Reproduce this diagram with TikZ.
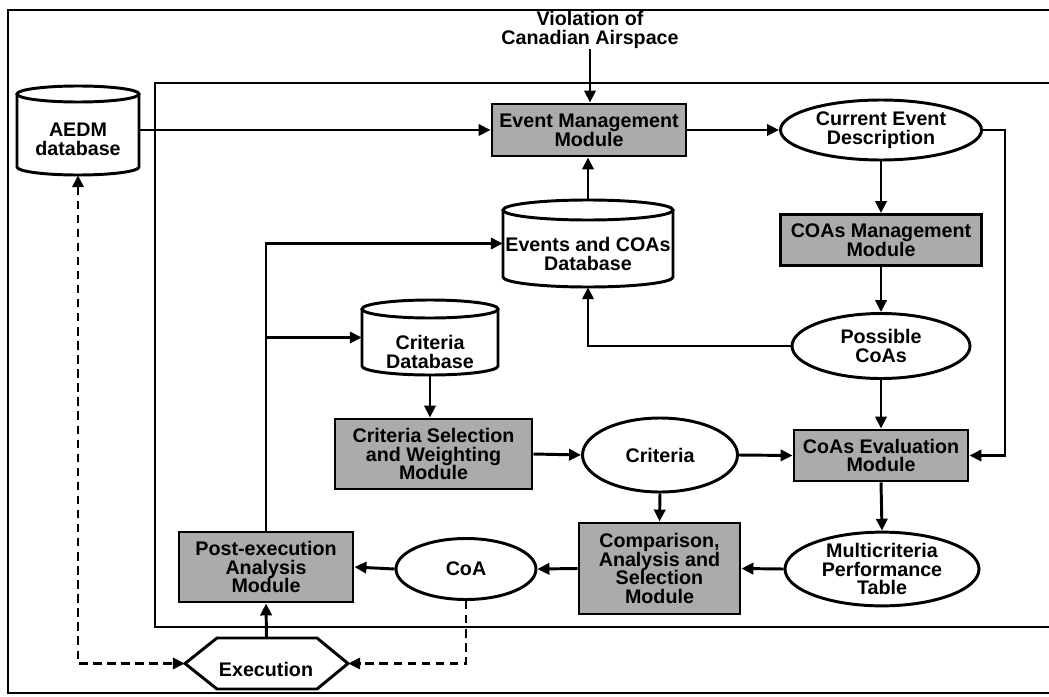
\documentclass[tikz,border=0pt]{standalone}
\usepackage{fontspec}
\setmainfont{Liberation Sans}
\usetikzlibrary{arrows.meta,shapes.geometric,calc}
\newcommand\pxd[1]{#1*0.025cm}
\begin{document}
\begin{tikzpicture}[x=0.025cm,y=-0.025cm,
  lw/.style={line width=2.1pt},
  frame/.style={line width=1.6pt},
  arr/.style={lw,-{Triangle[length=8.5pt,width=8pt]}},
  dasharr/.style={lw,dashed,dash pattern=on 6pt off 4pt,{Triangle[length=8.5pt,width=8pt]}-{Triangle[length=8.5pt,width=8pt]}},
  dasharrone/.style={lw,dashed,dash pattern=on 6pt off 4pt,-{Triangle[length=8.5pt,width=8pt]}},
  txt/.style={font=\bfseries\fontsize{14}{13.4}\selectfont,align=center,inner sep=0pt},
  modbox/.style={txt,draw,lw,fill=black!33,rectangle},
  oval/.style={txt,draw,lw,fill=white,ellipse},
  bound/.style={rectangle,draw=none,inner sep=0pt},
]
\useasboundingbox (0,0) rectangle (1049,696);
% frames
\draw[frame] (1049,10) -- (8,10) -- (8,693) -- (1049,693);
\draw[frame] (1049,83) -- (155,83) -- (155,627) -- (1049,627);

% cylinders
\node[bound,minimum width=\pxd{122},minimum height=\pxd{90}] (aedm) at (78,130) {};
\draw[lw] (17,94) -- (17,167) arc[start angle=180,end angle=0,x radius=61,y radius=8] -- (139,94);
\draw[lw] (78,94) ellipse[x radius=61,y radius=8];
\node[txt] (aedmtext) at (78,139) {AEDM\\database};

\node[bound,minimum width=\pxd{170},minimum height=\pxd{87}] (edb) at (588,243.5) {};
\draw[lw] (503,210) -- (503,277) arc[start angle=180,end angle=0,x radius=85,y radius=10] -- (673,210);
\draw[lw] (588,210) ellipse[x radius=85,y radius=10];
\node[txt] (edbtext) at (588,254) {Events and COAs\\Database};

\node[bound,minimum width=\pxd{136},minimum height=\pxd{75}] (cdb) at (430,337.5) {};
\draw[lw] (362,309) -- (362,366) arc[start angle=180,end angle=0,x radius=68,y radius=9] -- (498,309);
\draw[lw] (430,309) ellipse[x radius=68,y radius=9];
\node[txt] (cdbtext) at (430,352) {Criteria\\Database};

% hexagon
\node[bound,minimum width=\pxd{163},minimum height=\pxd{51}] (exec) at (266.5,663.5) {};
\draw[lw] (185,663.5) -- (217,638) -- (317,638) -- (348,663.5) -- (317,689) -- (217,689) -- cycle;
\node[txt] (exectext) at (266,669) {Execution};

% text
\node[txt] (viol) at (590,30) {Violation of\\Canadian Airspace};

% modules
\node[modbox,minimum width=\pxd{194},minimum height=\pxd{52}] (evt) at (589,130) {Event Management\\Module};
\node[modbox,minimum width=\pxd{201},minimum height=\pxd{51}] (coam) at (881,240) {COAs Management\\Module};
\node[modbox,minimum width=\pxd{197},minimum height=\pxd{70}] (csw) at (433.5,454) {Criteria Selection\\and Weighting\\Module};
\node[modbox,minimum width=\pxd{174},minimum height=\pxd{51}] (cev) at (881,455.5) {CoAs Evaluation\\Module};
\node[modbox,minimum width=\pxd{161},minimum height=\pxd{91}] (cas) at (659.5,568.5) {Comparison,\\Analysis and\\Selection\\Module};
\node[modbox,minimum width=\pxd{174},minimum height=\pxd{70}] (pea) at (266,567) {Post-execution\\Analysis\\Module};

% ovals
\node[oval,minimum width=\pxd{201},minimum height=\pxd{60}] (ced) at (881,130) {Current Event\\Description};
\node[oval,minimum width=\pxd{178},minimum height=\pxd{65}] (pcoa) at (881,346) {Possible\\CoAs};
\node[oval,minimum width=\pxd{155},minimum height=\pxd{74}] (crit) at (660,455) {Criteria};
\node[oval,minimum width=\pxd{194},minimum height=\pxd{72}] (mpt) at (882,569) {Multicriteria\\Performance\\Table};
\node[oval,minimum width=\pxd{140},minimum height=\pxd{61}] (coa) at (466,569) {CoA};

\coordinate (rbus) at (1005,130);

% connectors
\draw[arr] (aedm.east |- evt.west) -- (evt.west);
\draw[arr] (viol.south) -- (viol.south |- evt.north);
\draw[arr] (evt.east) -- (ced.west);
\draw[arr] (ced.south) -- (coam.north);
\draw[arr] (coam.south) -- (pcoa.north);
\draw[arr] (ced.east) -- (rbus) |- (cev.east);
\draw[arr] (pcoa.west) -| (edb.south);
\draw[arr] (edb.north) -- (edb.north |- evt.south);
\draw[arr] (pea.north) |- (edb.west);
\draw[arr] (pea.north |- cdb.west) -- (cdb.west);
\draw[arr] (cdb.south) -- (cdb.south |- csw.north);
\draw[arr] (csw.east) -- (crit.west);
\draw[arr] (crit.east) -- (cev.west);
\draw[arr] (pcoa.south) -- (cev.north);
\draw[arr] (cev.south) -- (mpt.north);
\draw[arr] (mpt.west) -- (cas.east);
\draw[arr] (crit.south) -- (cas.north);
\draw[arr] (cas.west) -- (coa.east);
\draw[arr] (coa.west) -- (pea.east);
\draw[arr] (exec.north) -- (pea.south);
\draw[dasharr] (aedm.south) |- (exec.west);
\draw[dasharrone] (coa.south) |- (exec.east);
\end{tikzpicture}
\end{document}
